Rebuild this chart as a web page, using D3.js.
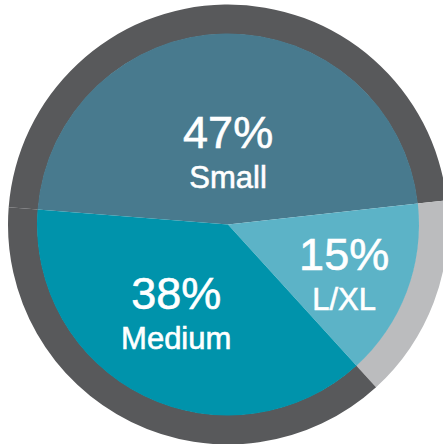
<!DOCTYPE html>
<html>
<head>
<meta charset="utf-8">
<script src="https://cdn.jsdelivr.net/npm/d3@7"></script>
<style>
  html, body { margin: 0; padding: 0; background: #ffffff; }
  svg { display: block; }
  text { font-family: "Liberation Sans", Arial, Helvetica, sans-serif; fill: #ffffff; stroke: #ffffff; stroke-width: 0.6px; }
</style>
</head>
<body>
<div id="chart"></div>
<script>
// Data (clockwise order)
const categories = ["Small", "L/XL", "Medium"];
const values = [47, 15, 38];
const pctLabels = ["47%", "15%", "38%"];

// Styles / layout
const W = 443, H = 444;
const cx = 228, cy = 224.5;
const rInner = 191, rOuter = 220;
const sliceColors = { "Small": "#487a8e", "L/XL": "#5cb3c7", "Medium": "#0093ab" };
const ringColors = { "Small": "#58595b", "L/XL": "#bbbcbe", "Medium": "#58595b" };
const labelRadius = { "Small": 64, "L/XL": 130, "Medium": 110 };
const labelAngleShift = { "Small": 1, "L/XL": 6, "Medium": 2 }; // degrees

const svg = d3.select("#chart").append("svg")
  .attr("width", W).attr("height", H);

const g = svg.append("g").attr("transform", `translate(${cx},${cy})`);

const start = -85.5 * Math.PI / 180;
const pie = d3.pie().sort(null).value(d => d.value)
  .startAngle(start).endAngle(start + 2 * Math.PI);

const data = categories.map((c, i) => ({ cat: c, value: values[i], pct: pctLabels[i] }));
const arcs = pie(data);

const ringArc = d3.arc().innerRadius(rInner - 0.5).outerRadius(rOuter);
const sliceArc = d3.arc().innerRadius(0).outerRadius(rInner);

g.selectAll("path.ring").data(arcs).join("path")
  .attr("class", "ring")
  .attr("d", ringArc)
  .attr("fill", d => ringColors[d.data.cat]);

g.selectAll("path.slice").data(arcs).join("path")
  .attr("class", "slice")
  .attr("d", sliceArc)
  .attr("fill", d => sliceColors[d.data.cat]);

const labels = g.selectAll("g.label").data(arcs).join("g")
  .attr("class", "label")
  .attr("transform", d => {
    const a = (d.startAngle + d.endAngle) / 2 + labelAngleShift[d.data.cat] * Math.PI / 180;
    const r = labelRadius[d.data.cat];
    return `translate(${r * Math.sin(a)},${-r * Math.cos(a)})`;
  });

labels.append("text")
  .attr("text-anchor", "middle")
  .attr("y", -13)
  .attr("font-size", 45)
  .text(d => d.data.pct);

labels.append("text")
  .attr("text-anchor", "middle")
  .attr("y", 27)
  .attr("font-size", 31)
  .text(d => d.data.cat);
</script>
</body>
</html>
